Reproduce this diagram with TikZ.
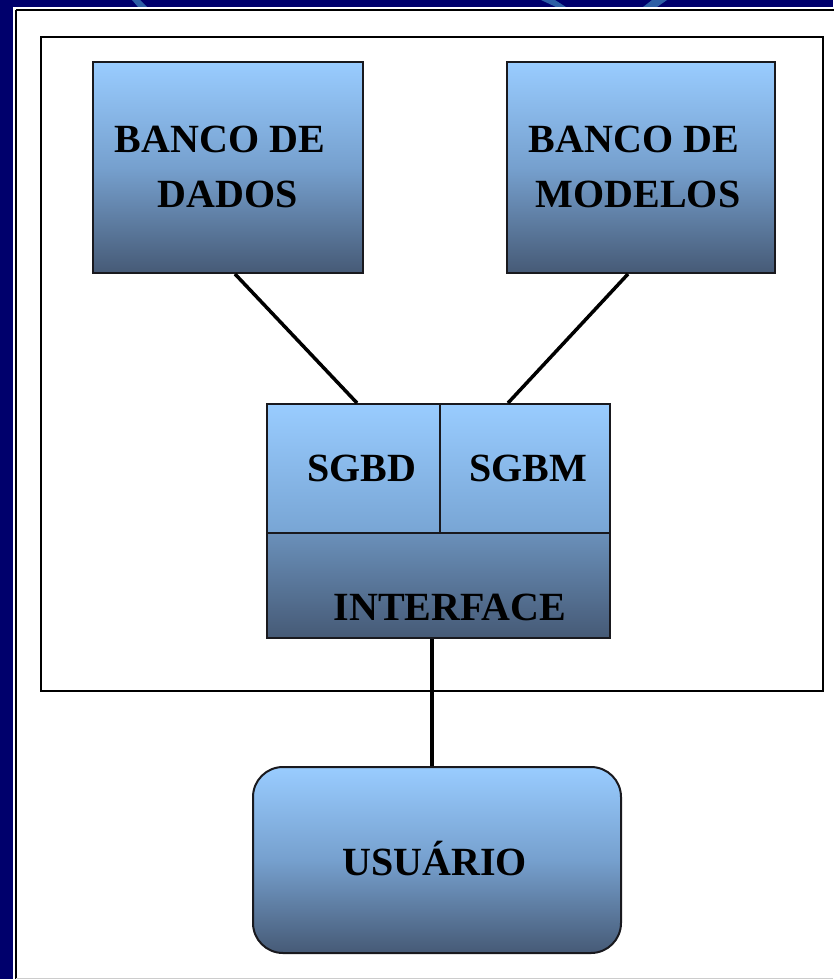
\documentclass[tikz,border=0pt]{standalone}
\usepackage{fontspec}
\setmainfont{Liberation Serif}
\definecolor{navy}{RGB}{0,0,108}
\definecolor{arcblue}{RGB}{45,95,165}
\definecolor{boxtop}{RGB}{153,204,255}
\definecolor{boxmid}{RGB}{118,160,206}
\definecolor{boxbot}{RGB}{70,90,118}
\definecolor{midA}{RGB}{120,165,212}
\definecolor{midB}{RGB}{106,144,186}
\definecolor{edge}{RGB}{25,25,30}
\begin{document}
\begin{tikzpicture}[x=1pt,y=-1pt,
  box/.style={draw=edge,line width=2pt,rectangle,inner sep=0pt,
    top color=boxtop,bottom color=boxbot,middle color=boxmid},
  cellbox/.style={draw=edge,line width=2pt,rectangle,inner sep=0pt},
  lbl/.style={anchor=base,inner sep=0pt,font=\fontsize{40}{48}\bfseries\selectfont},
  link/.style={line width=3.5pt,black}]
\useasboundingbox (0,0) rectangle (833,979);
% background
\fill[navy] (0,0) rectangle (833,979);
\fill[arcblue] (132,0) -- (140,0) -- (147,7) -- (138,7) -- cycle;
\fill[arcblue] (541,0) -- (555,0) -- (566,7) -- (556,7) -- cycle;
\fill[arcblue] (652,0) -- (667,0) -- (657,7) -- (643,7) -- cycle;
\fill[white] (13,7) rectangle (840,990);
\draw[black,line width=2pt] (15.5,10) -- (840,10);
\draw[black,line width=2pt] (15.5,10) -- (15.5,990);
\draw[gray!40,line width=1pt] (16,978.5) -- (833,978.5);
% system frame
\node[draw=black,line width=2.2pt,rectangle,inner sep=0pt,minimum width=782pt,minimum height=654pt] (sistema) at (432,364) {};
% top boxes
\node[box,minimum width=270pt,minimum height=211pt] (dados) at (228,167.5) {};
\node[box,minimum width=268pt,minimum height=211pt] (modelos) at (641,167.5) {};
% middle box
\node[cellbox,top color=boxtop,bottom color=midA,minimum width=173pt,minimum height=129pt] (sgbd) at (353.5,468.5) {};
\node[cellbox,top color=boxtop,bottom color=midA,minimum width=170pt,minimum height=129pt] (sgbm) at (525,468.5) {};
\node[cellbox,top color=midB,bottom color=boxbot,minimum width=343pt,minimum height=105pt] (iface) at (438.5,585.5) {};
% user
\node[box,rounded corners=30pt,minimum width=368pt,minimum height=186pt] (usuario) at (437,860) {};
% labels
\node[lbl] (dadosA) at (220,153) {BANCO DE};
\node[lbl] (dadosB) at (228,207) {DADOS};
\node[lbl] (modelosA) at (634,153) {BANCO DE};
\node[lbl] (modelosB) at (638,207) {MODELOS};
\node[lbl] (sgbdL) at (362,481) {SGBD};
\node[lbl] (sgbmL) at (528,481) {SGBM};
\node[lbl] (ifaceL) at (450,620) {INTERFACE};
\node[lbl] (usuarioL) at (434.5,875) {USUÁRIO};
% connectors
\draw[link] ([xshift=7pt]dados.south) -- ([xshift=3.5pt]sgbd.north);
\draw[link] ([xshift=-13pt]modelos.south) -- ([xshift=-17pt]sgbm.north);
\draw[link] ([xshift=-6.5pt]iface.south) -- ([xshift=-5pt]usuario.north);
\end{tikzpicture}
\end{document}
